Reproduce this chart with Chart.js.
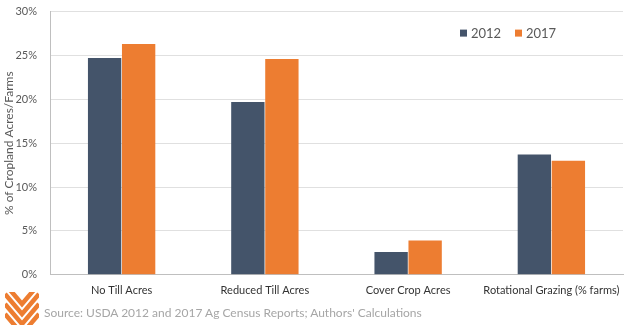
<!DOCTYPE html>
<html>
<head>
<meta charset="utf-8">
<script src="https://cdn.jsdelivr.net/npm/chart.js@4/dist/chart.umd.min.js"></script>
<style>
  html, body { margin: 0; padding: 0; background: #fff; overflow: hidden; }
  #wrap { position: relative; width: 624px; height: 325px; overflow: hidden; }
  #barCanvas { position: absolute; left: 0; top: -8px; }
  #source { position: absolute; left: 44px; top: 305px; font: 12px Lato, sans-serif; color: #a6a6a6; white-space: nowrap; }
  #logo { position: absolute; left: 5px; top: 292px; }
</style>
</head>
<body>
<div id="wrap">
  <canvas id="barCanvas" width="624" height="333"></canvas>
  <svg id="logo" width="34" height="33" viewBox="0 0 34 33">
    <defs><clipPath id="c"><rect x="0" y="0" width="34" height="33"/></clipPath></defs>
    <g fill="none" stroke="#ED7D31" stroke-width="4.5" clip-path="url(#c)">
      <polyline points="0,-8 17,12 34,-8"/>
      <polyline points="0,2 17,22 34,2"/>
      <polyline points="0,12 17,32 34,12"/>
      <polyline points="0,22 17,42 34,22"/>
    </g>
  </svg>
  <div id="source">Source: USDA 2012 and 2017 Ag Census Reports; Authors' Calculations</div>
</div>
<script>
const categories = ["No Till Acres", "Reduced Till Acres", "Cover Crop Acres", "Rotational Grazing (% farms)"]
const values2012 = [24.7, 19.7, 2.6, 13.7]
const values2017 = [26.3, 24.6, 3.9, 13.0]
const seriesNames = ["2012", "2017"]
const seriesColors = ["#44546A", "#ED7D31"]

// legend drawn inside the plot, top right
const innerLegend = {
    id: "innerLegend",
    afterDraw(chart) {
        const ctx = chart.ctx
        const area = chart.chartArea
        let x = area.left + 410
        const y = area.top + 22
        ctx.save()
        ctx.font = "13px Lato, sans-serif"
        ctx.textBaseline = "middle"
        chart.data.datasets.forEach(ds => {
            ctx.fillStyle = ds.backgroundColor
            ctx.fillRect(x, y - 4, 7, 7)
            ctx.fillStyle = "#595959"
            ctx.fillText(ds.label, x + 11, y)
            x += 55
        })
        ctx.restore()
    }
}

const barCanvas = document.getElementById("barCanvas")
const barChart = new Chart(barCanvas, {
    type: "bar",
    data: {
        labels: categories,
        datasets: [
            { label: seriesNames[0], data: values2012, backgroundColor: seriesColors[0] },
            { label: seriesNames[1], data: values2017, backgroundColor: seriesColors[1] }
        ]
    },
    options: {
        responsive: false,
        animation: false,
        layout: { padding: { left: 0, right: 1, top: 0, bottom: 27 } },
        datasets: { bar: { categoryPercentage: 0.475, barPercentage: 0.98 } },
        plugins: { legend: { display: false }, tooltip: { enabled: false } },
        scales: {
            x: {
                grid: { display: false },
                border: { color: "#bfbfbf" },
                ticks: { color: "#333333", font: { family: "Lato", size: 11 }, padding: 1, maxRotation: 0 }
            },
            y: {
                min: 0, max: 30,
                afterFit: scale => { scale.width = 50 },
                ticks: { stepSize: 5, callback: v => v + "%", color: "#595959", font: { family: "Lato", size: 11 }, padding: 13 },
                grid: { color: "#e0e0e0", drawTicks: false },
                border: { color: "#bfbfbf" },
                title: { display: true, text: "% of Cropland Acres/Farms", color: "#595959", font: { family: "Lato", size: 12 }, padding: 2 }
            }
        }
    },
    plugins: [innerLegend]
})
</script>
</body>
</html>
